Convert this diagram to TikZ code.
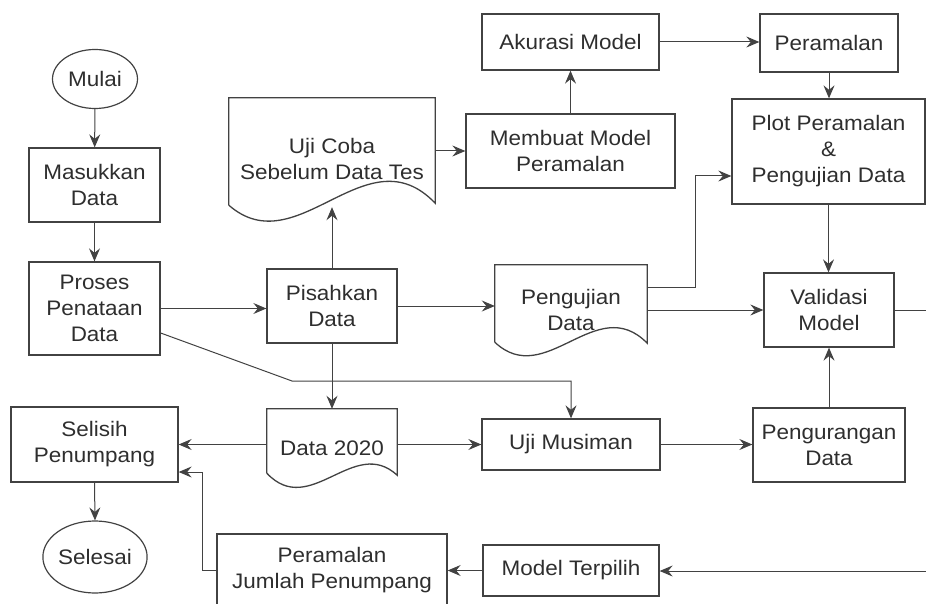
\documentclass[tikz,border=0pt]{standalone}
\usepackage{fontspec}
\setmainfont[FakeStretch=1.07]{Liberation Sans}
\usetikzlibrary{arrows.meta,positioning,calc,shapes.geometric}
\definecolor{flink}{HTML}{2E2E2E}
\definecolor{flline}{HTML}{424242}
\tikzset{
  bx/.style={align=center, font=\fontsize{21}{26}\selectfont, text=flink, inner sep=0pt},
  blk/.style={bx, rectangle, draw=flline, line width=1.3pt},
  trm/.style={bx, ellipse, draw=flline, line width=1.2pt},
  doc/.style={bx, rectangle},
  arr/.style={-{Stealth[length=13pt,width=11pt,inset=4.5pt]}, line width=1pt, color=flline},
  ln/.style={line width=1pt, color=flline},
}

\begin{document}
\begin{tikzpicture}[x=1pt, y=-1pt]
    \clip (0,0) rectangle (926,604);
    % terminals
    \node[trm, minimum width=85pt, minimum height=59pt] (mulai) at (95,79) {Mulai};
    \node[trm, minimum width=104pt, minimum height=72pt] (selesai) at (95,557) {Selesai};
    % process boxes
    \foreach \n/\x/\y/\w/\h/\t in {
      masuk/94.5/185/131/74/{Masukkan\\Data},
      proses/94.5/308.5/131/93/{Proses\\Penataan\\Data},
      pisahkan/332/306/130/74/{Pisahkan\\Data},
      akurasi/570.5/42/177/56/{Akurasi Model},
      peramalan/829/43/138/58/{Peramalan},
      membuat/570.5/151/209/74/{Membuat Model\\Peramalan},
      plot/828.5/151.5/193/105/{Plot Peramalan\\\&\\Pengujian Data},
      validasi/829/310/130/74/{Validasi\\Model},
      selisih/94.5/444.5/167/75/{Selisih\\Penumpang},
      musiman/571/444.5/178/51/{Uji Musiman},
      pengurangan/829/445/152/74/{Pengurangan\\Data},
      pjumlah/332/570/230/72/{Peramalan\\Jumlah Penumpang},
      terpilih/571/570.5/176/51/{Model Terpilih}}
    {
      \node[blk, minimum width=\w pt, minimum height=\h pt] (\n) at (\x,\y) {\t};
    }
    % documents
    \node[doc, minimum width=206pt, minimum height=122pt] (ujicoba) at (332,159) {Uji Coba\\Sebelum Data Tes};
    \node[doc, minimum width=152pt, minimum height=90pt] (pengujian) at (571,310) {Pengujian\\Data};
    \node[doc, minimum width=130pt, minimum height=78pt] (data20) at (332,448) {Data 2020};
    \foreach \d/\l/\r/\p/\q in {ujicoba/15/17/60/72, pengujian/13/12/48/52, data20/14/12/46/40}
      \draw[flline, line width=1.3pt] ($(\d.south west)+(0,-\l)$) -- (\d.north west) -- (\d.north east)
        -- ($(\d.south east)+(0,-\r)$)
        .. controls ($(\d.south east)!0.3333!(\d.south west)+(0,-\r-\q)$)
        and ($(\d.south east)!0.6667!(\d.south west)+(0,\p-\l)$) .. ($(\d.south west)+(0,-\l)$);
    % bends and free ends
    \coordinate (kink) at (292,381);
    \coordinate (rise) at (695,287);
    \coordinate (back) at (202,472);
    \coordinate (edgeA) at (926,310);
    \coordinate (edgeB) at (926,571);
    % connectors
    \draw[arr] (mulai) -- (masuk);
    \draw[arr] (masuk) -- (proses);
    \draw[arr] (proses.east) -- (pisahkan.west |- proses.east);
    \draw[arr] ($(proses.east)+(0,24.5)$) -- (kink) -| (musiman.north);
    \draw[arr] (pisahkan.north) -- ($(ujicoba.south)+(0,-13)$);
    \draw[arr] (pisahkan.south) -- (data20.north);
    \draw[arr] (pisahkan.east) -- (pisahkan.east -| pengujian.west);
    \draw[arr] (membuat.west -| ujicoba.east) -- (membuat.west);
    \draw[arr] (membuat.north) -- (akurasi.south);
    \draw[arr] (akurasi.east) -- (peramalan.west |- akurasi.east);
    \draw[arr] (peramalan.south) -- (peramalan.south |- plot.north);
    \draw[arr] (pengujian.east |- rise) -- (rise) |- ($(plot.west)+(0,24.5)$);
    \draw[arr] (pengujian.east) -- (validasi.west);
    \draw[arr] (plot.south) -- (plot.south |- validasi.north);
    \draw[ln] (validasi.east) -- (edgeA);
    \draw[arr] (pengurangan.north) -- (validasi.south);
    \draw[arr] (musiman.east) -- (musiman.east -| pengurangan.west);
    \draw[arr] (musiman.west -| data20.east) -- (musiman.west);
    \draw[arr] (selisih.east -| data20.west) -- (selisih.east);
    \draw[arr] (selisih.south) -- (selesai.north);
    \draw[arr] (pjumlah.west) -| (back) -- ($(selisih.east)+(0,27.5)$);
    \draw[arr] (terpilih.west) -- (terpilih.west -| pjumlah.east);
    \draw[arr] (edgeB) -- (edgeB -| terpilih.east);
\end{tikzpicture}
\end{document}
